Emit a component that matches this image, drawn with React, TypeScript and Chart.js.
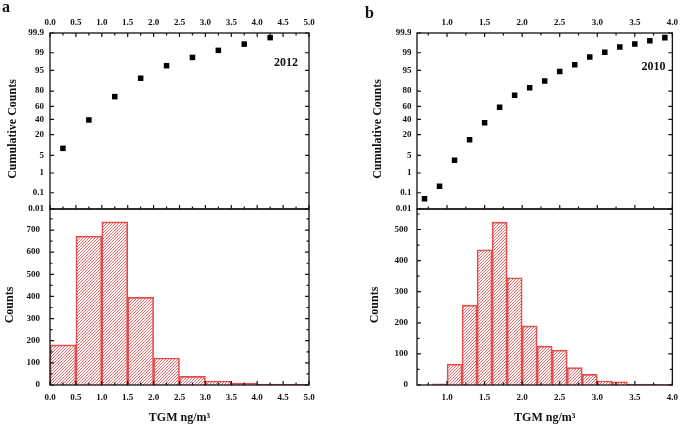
import React, { useEffect, useRef } from 'react';
import { Chart, registerables, LinearScale } from 'chart.js';

// ---------- Data: panel a (2012) ----------
const binWidthA = 0.5;
const binCentersA = [0.25, 0.75, 1.25, 1.75, 2.25, 2.75, 3.25, 3.75, 4.25, 4.75];
const countsA = [181, 672, 737, 396, 122, 39, 18, 9, 4, 3];
const cumXA = [0.25, 0.75, 1.25, 1.75, 2.25, 2.75, 3.25, 3.75, 4.25];
const cumPctA = [8.5, 39.2, 73.5, 91.0, 96.6, 98.4, 99.22, 99.61, 99.82];
const xTicksA = [0, 0.5, 1, 1.5, 2, 2.5, 3, 3.5, 4, 4.5, 5];
const countTicksA = [0, 100, 200, 300, 400, 500, 600, 700];

// ---------- Data: panel b (2010) ----------
const binWidthB = 0.2;
const binCentersB = [0.9, 1.1, 1.3, 1.5, 1.7, 1.9, 2.1, 2.3, 2.5, 2.7, 2.9, 3.1, 3.3, 3.5, 3.7, 3.9];
const countsB = [4, 67, 257, 435, 524, 345, 190, 125, 112, 56, 34, 13, 10, 3, 3, 1];
const cumXB = [0.7, 0.9, 1.1, 1.3, 1.5, 1.7, 1.9, 2.1, 2.3, 2.5, 2.7, 2.9, 3.1, 3.3, 3.5, 3.7, 3.9];
const cumPctB = [0.045, 0.226, 3.33, 15.0, 35.2, 58.6, 75.2, 83.5, 89.1, 94.5, 96.9, 98.47, 99.05, 99.46, 99.61, 99.74, 99.82];
const xTicksB = [1, 1.5, 2, 2.5, 3, 3.5, 4];
const countTicksB = [0, 100, 200, 300, 400, 500];

const probTicks = [0.01, 0.1, 1, 5, 20, 40, 60, 80, 95, 99, 99.9];

// ---------- Probability (normal quantile) scale ----------
function normInv(p: number): number {
  const a = [-3.969683028665376e1, 2.209460984245205e2, -2.759285104469687e2, 1.38357751867269e2, -3.066479806614716e1, 2.506628277459239];
  const b = [-5.447609879822406e1, 1.615858368580409e2, -1.556989798598866e2, 6.680131188771972e1, -1.328068155288572e1];
  const c = [-7.784894002430293e-3, -3.223964580411365e-1, -2.400758277161838, -2.549732539343734, 4.374664141464968, 2.938163982698783];
  const d = [7.784695709041462e-3, 3.224671290700398e-1, 2.445134137142996, 3.754408661907416];
  const pl = 0.02425;
  if (p < pl) {
    const q = Math.sqrt(-2 * Math.log(p));
    return (((((c[0] * q + c[1]) * q + c[2]) * q + c[3]) * q + c[4]) * q + c[5]) / ((((d[0] * q + d[1]) * q + d[2]) * q + d[3]) * q + 1);
  }
  if (p > 1 - pl) {
    const q = Math.sqrt(-2 * Math.log(1 - p));
    return -(((((c[0] * q + c[1]) * q + c[2]) * q + c[3]) * q + c[4]) * q + c[5]) / ((((d[0] * q + d[1]) * q + d[2]) * q + d[3]) * q + 1);
  }
  const q = p - 0.5, r = q * q;
  return ((((((a[0] * r + a[1]) * r + a[2]) * r + a[3]) * r + a[4]) * r + a[5]) * q) / (((((b[0] * r + b[1]) * r + b[2]) * r + b[3]) * r + b[4]) * r + 1);
}

class ProbabilityScale extends (LinearScale as any) {
  static id = 'probability';
  determineDataLimits() {
    const o: any = this.options;
    this.min = o.min;
    this.max = o.max;
  }
  buildTicks() {
    const o: any = this.options;
    return (o.tickValues || []).map((v: number) => ({ value: v }));
  }
  getPixelForValue(value: number) {
    const z0 = normInv(this.min / 100), z1 = normInv(this.max / 100);
    return this.getPixelForDecimal((normInv(value / 100) - z0) / (z1 - z0));
  }
  getValueForPixel(pixel: number) {
    let lo = this.min, hi = this.max;
    const top = this.getPixelForValue(hi) < this.getPixelForValue(lo);
    for (let i = 0; i < 50; i++) {
      const mid = (lo + hi) / 2;
      const pm = this.getPixelForValue(mid);
      if (top ? pm > pixel : pm < pixel) lo = mid; else hi = mid;
    }
    return (lo + hi) / 2;
  }
}

Chart.register(...registerables);
Chart.register(ProbabilityScale as any);

const SERIF = '"Liberation Serif", "Times New Roman", serif';
const tickFont = { family: SERIF, size: 9, weight: 'bold' as const };

function fmt1(v: number) {
  return Number(v).toFixed(1);
}

const framePlugin = {
  id: 'frameTicks',
  afterDatasetsDraw(chart: any, _args: any, opts: any) {
    const ctx = chart.ctx as CanvasRenderingContext2D;
    const xb = chart.scales.x, xt = chart.scales.xTop, yp = chart.scales.yProb, yc = chart.scales.yCount;
    const L = chart.chartArea.left, R = chart.chartArea.right;
    const pT = yp.top, pB = yp.bottom, cT = yc.top, cB = yc.bottom;
    const MAJ = 4, MIN = 2.5;
    ctx.save();
    ctx.strokeStyle = '#111';
    ctx.lineWidth = 1.2;
    ctx.beginPath();
    for (const v of opts.xMajor) {
      const px = xt.getPixelForValue(v);
      ctx.moveTo(px, pT); ctx.lineTo(px, pT + MAJ);
      ctx.moveTo(px, pB); ctx.lineTo(px, pB - MAJ);
      const bx = xb.getPixelForValue(v);
      ctx.moveTo(bx, cB); ctx.lineTo(bx, cB - MAJ);
    }
    for (const v of opts.xMinor) {
      const px = xt.getPixelForValue(v);
      ctx.moveTo(px, pT); ctx.lineTo(px, pT + MIN);
      ctx.moveTo(px, pB); ctx.lineTo(px, pB - MIN);
      const bx = xb.getPixelForValue(v);
      ctx.moveTo(bx, cB); ctx.lineTo(bx, cB - MIN);
    }
    for (const v of probTicks) {
      const py = yp.getPixelForValue(v);
      ctx.moveTo(L, py); ctx.lineTo(L + MAJ, py);
      ctx.moveTo(R, py); ctx.lineTo(R - MAJ, py);
    }
    for (const v of opts.cMajor) {
      const py = yc.getPixelForValue(v);
      ctx.moveTo(L, py); ctx.lineTo(L + MAJ, py);
      ctx.moveTo(R, py); ctx.lineTo(R - MAJ, py);
    }
    for (const v of opts.cMinor) {
      const py = yc.getPixelForValue(v);
      ctx.moveTo(L, py); ctx.lineTo(L + MIN, py);
      ctx.moveTo(R, py); ctx.lineTo(R - MIN, py);
    }
    ctx.stroke();
    ctx.lineWidth = 1.3;
    ctx.strokeRect(L, pT, R - L, pB - pT);
    ctx.strokeRect(L, cT, R - L, cB - cT);
    ctx.fillStyle = '#111';
    ctx.font = `bold 12px ${SERIF}`;
    ctx.textAlign = 'center';
    ctx.textBaseline = 'middle';
    const drawRot = (text: string, x: number, y: number) => {
      ctx.save();
      ctx.translate(x, y);
      ctx.rotate(-Math.PI / 2);
      ctx.fillText(text, 0, 0);
      ctx.restore();
    };
    drawRot('Cumulative Counts', L + opts.probTitleDx, (pT + pB) / 2 + 8);
    drawRot('Counts', L + opts.countTitleDx, (cT + cB) / 2 + 8);
    ctx.textAlign = 'right';
    ctx.fillText(opts.year, R - opts.yearInset, pT + opts.yearDy);
    ctx.font = `bold 16px ${SERIF}`;
    ctx.textAlign = 'left';
    ctx.textBaseline = 'alphabetic';
    ctx.fillText(opts.letter, opts.letterX, opts.letterY);
    ctx.restore();
  },
};

function makeHatch(ctx: CanvasRenderingContext2D) {
  const c = document.createElement('canvas');
  c.width = 3; c.height = 3;
  const g = c.getContext('2d')!;
  g.fillStyle = 'rgb(236,104,104)';
  g.fillRect(2, 0, 1, 1);
  g.fillRect(1, 1, 1, 1);
  g.fillRect(0, 2, 1, 1);
  return ctx.createPattern(c, 'repeat');
}

interface PanelCfg {
  left: number; width: number;
  binWidth: number; bins: number[]; counts: number[]; cumX: number[]; cumPct: number[];
  xMin: number; xMax: number; xTicks: number[]; xMinor: number[];
  countMax: number; countTicks: number[]; countMinor: number[];
  year: string; yearInset: number; yearDy: number;
  letter: string; letterX: number; letterY: number;
  padLeft: number; padRight: number; yWidth: number; countPad: number; probPad: number;
  probTitleDx: number; countTitleDx: number;
}

function Panel({ cfg }: { cfg: PanelCfg }) {
  const ref = useRef<HTMLCanvasElement>(null);
  useEffect(() => {
    const canvas = ref.current!;
    const ctx = canvas.getContext('2d')!;
    const hatch = makeHatch(ctx);
    const commonGrid = { display: false, drawTicks: false };
    const chart = new Chart(ctx, {
      type: 'scatter',
      data: {
        datasets: [
          {
            type: 'bar',
            data: cfg.bins.map((x, i) => ({ x, y: cfg.counts[i] })),
            xAxisID: 'x',
            yAxisID: 'yCount',
            backgroundColor: hatch as any,
            borderColor: '#e34a4a',
            borderWidth: 1,
            grouped: false,
            barPercentage: 1,
            categoryPercentage: 1,
            barThickness: (c: any) => {
              const s = c.chart.scales.x;
              return Math.abs(s.getPixelForValue(cfg.binWidth) - s.getPixelForValue(0));
            },
          } as any,
          {
            type: 'scatter',
            data: cfg.cumX.map((x, i) => ({ x, y: cfg.cumPct[i] })),
            xAxisID: 'xTop',
            yAxisID: 'yProb',
            pointStyle: 'rect',
            pointRadius: 3.9,
            pointBackgroundColor: '#000',
            pointBorderColor: '#000',
            pointBorderWidth: 0,
            showLine: false,
          } as any,
        ],
      },
      options: {
        responsive: false,
        animation: false,
        events: [],
        layout: { padding: { left: cfg.padLeft, right: cfg.padRight, top: 0, bottom: 0 } },
        plugins: {
          legend: { display: false },
          tooltip: { enabled: false },
          frameTicks: {
            xMajor: cfg.xTicks, xMinor: cfg.xMinor, cMajor: cfg.countTicks, cMinor: cfg.countMinor,
            year: cfg.year, yearInset: cfg.yearInset, yearDy: cfg.yearDy,
            letter: cfg.letter, letterX: cfg.letterX, letterY: cfg.letterY,
            probTitleDx: cfg.probTitleDx, countTitleDx: cfg.countTitleDx,
          },
        } as any,
        scales: {
          yCount: {
            type: 'linear', position: 'left', stack: 'left', stackWeight: 1, weight: 1,
            min: 0, max: cfg.countMax, offset: false,
            grid: commonGrid, border: { display: false },
            ticks: { font: tickFont, color: '#111', padding: cfg.countPad, autoSkip: false, callback: (v: any) => String(v) },
            afterBuildTicks: (s: any) => { s.ticks = cfg.countTicks.map((v) => ({ value: v })); },
            afterFit: (s: any) => { s.width = cfg.yWidth; },
          },
          yProb: {
            type: 'probability', position: 'left', stack: 'left', stackWeight: 1, weight: 2,
            min: 0.01, max: 99.9, offset: false, tickValues: probTicks,
            grid: commonGrid, border: { display: false },
            ticks: { font: tickFont, color: '#111', padding: cfg.probPad, autoSkip: false, callback: (v: any) => String(v) },
            afterFit: (s: any) => { s.width = cfg.yWidth; },
          } as any,
          x: {
            type: 'linear', position: 'bottom', min: cfg.xMin, max: cfg.xMax, offset: false,
            grid: commonGrid, border: { display: false },
            ticks: { font: tickFont, color: '#111', padding: 7, autoSkip: false, maxRotation: 0, callback: (v: any) => fmt1(v) },
            afterBuildTicks: (s: any) => { s.ticks = cfg.xTicks.map((v) => ({ value: v })); },
            afterFit: (s: any) => { s.height = 43; },
            title: { display: true, text: 'TGM ng/m³', font: { family: SERIF, size: 12, weight: 'bold' }, color: '#111', padding: { top: 0, bottom: 3 } },
          },
          xTop: {
            type: 'linear', position: 'top', min: cfg.xMin, max: cfg.xMax, offset: false,
            grid: commonGrid, border: { display: false },
            ticks: { font: tickFont, color: '#111', padding: 5, autoSkip: false, maxRotation: 0, callback: (v: any) => fmt1(v) },
            afterBuildTicks: (s: any) => { s.ticks = cfg.xTicks.map((v) => ({ value: v })); },
            afterFit: (s: any) => { s.height = 33; },
          },
        } as any,
      },
      plugins: [framePlugin],
    });
    return () => chart.destroy();
  }, []);
  return (
    <canvas
      ref={ref}
      width={cfg.width}
      height={428}
      style={{ position: 'absolute', left: cfg.left, top: 0, width: cfg.width, height: 428 }}
    />
  );
}

const panelA: PanelCfg = {
  left: 0, width: 342,
  binWidth: binWidthA, bins: binCentersA, counts: countsA, cumX: cumXA, cumPct: cumPctA,
  xMin: 0, xMax: 5, xTicks: xTicksA, xMinor: [0.25, 0.75, 1.25, 1.75, 2.25, 2.75, 3.25, 3.75, 4.25, 4.75],
  countMax: 795, countTicks: countTicksA, countMinor: [50, 150, 250, 350, 450, 550, 650, 750],
  year: '2012', yearInset: 11, yearDy: 30,
  letter: 'a', letterX: 2, letterY: 12,
  padLeft: 2, padRight: 33, yWidth: 48, countPad: 10, probPad: 6,
  probTitleDx: -37.5, countTitleDx: -40.5,
};

const panelB: PanelCfg = {
  left: 342, width: 343,
  binWidth: binWidthB, bins: binCentersB, counts: countsB, cumX: cumXB, cumPct: cumPctB,
  xMin: 0.6, xMax: 4.0, xTicks: xTicksB, xMinor: [0.75, 1.25, 1.75, 2.25, 2.75, 3.25, 3.75],
  countMax: 566, countTicks: countTicksB, countMinor: [50, 150, 250, 350, 450, 550],
  year: '2010', yearInset: 7, yearDy: 34,
  letter: 'b', letterX: 23, letterY: 18,
  padLeft: 25, padRight: 10, yWidth: 50, countPad: 9, probPad: 5.5,
  probTitleDx: -39, countTitleDx: -42,
};

export default function App() {
  return (
    <div style={{ position: 'absolute', left: 0, top: 0, width: 685, height: 428, background: '#fff' }}>
      <Panel cfg={panelA} />
      <Panel cfg={panelB} />
    </div>
  );
}
